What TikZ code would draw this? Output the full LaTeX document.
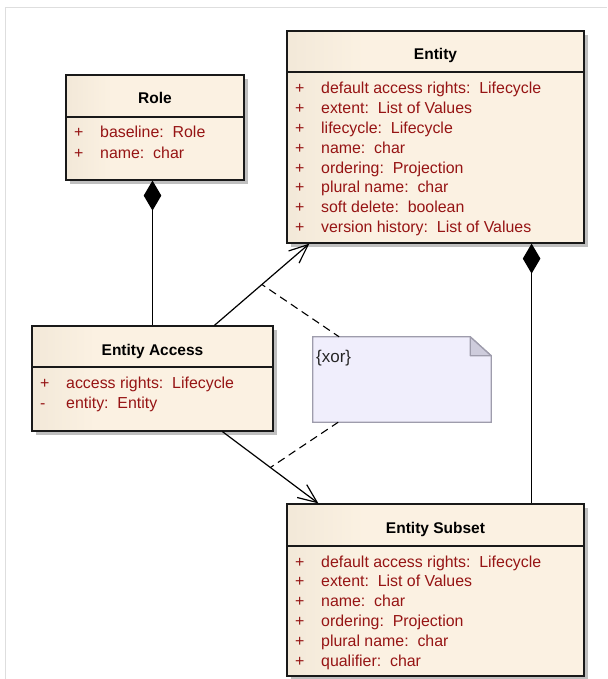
\documentclass[tikz,border=0pt]{standalone}
\usepackage{fontspec}
\setmainfont{Liberation Sans}
\usetikzlibrary{arrows.meta,shadows,calc}

\definecolor{attrred}{RGB}{150,20,20}
\definecolor{classtan}{RGB}{226,216,198}
\definecolor{classcream}{RGB}{251,241,226}
\definecolor{notefill}{RGB}{240,238,252}
\definecolor{noteedge}{RGB}{158,156,172}
\definecolor{notefold}{RGB}{206,204,220}
\definecolor{framegray}{RGB}{222,222,222}

% class compartments fade from tan on the left to cream
\pgfdeclarehorizontalshading{classfill}{100bp}{color(0bp)=(classtan); color(38bp)=(classcream); color(100bp)=(classcream)}

\tikzset{
  classbox/.style={draw=black!90, line width=1.2pt, shading=classfill, inner sep=0pt,
    drop shadow={shadow xshift=4pt, shadow yshift=-4pt, fill=black!25, opacity=1}},
  classtitle/.style={font=\bfseries\fontsize{15.5}{18}\selectfont, anchor=base, inner sep=0pt},
  attrvis/.style={font=\fontsize{15.9}{18}\selectfont, text=attrred, anchor=base west, inner sep=0pt},
  attrtext/.style={font=\fontsize{15.9}{18}\selectfont, text=attrred, anchor=base west, inner sep=0pt},
  sepline/.style={draw=black!90, line width=1.2pt},
  conn/.style={draw=black, line width=1.2pt},
  composition/.style={conn, {Diamond[length=30pt,width=17.6pt]}-},
  association/.style={conn, -{Straight Barb[length=19pt,width=16pt]}},
  notelink/.style={draw=black, line width=1.1pt, dash pattern=on 8pt off 5pt, dash phase=4pt},
  notebox/.style={minimum width=178pt, minimum height=85pt, inner sep=0pt},
}

\begin{document}
\begin{tikzpicture}[x=1pt, y=-1pt]
\useasboundingbox (0,0) rectangle (607,679);

% canvas frame
\draw[framegray, line width=1pt] (5,679) -- (5,8) -- (607,8);

% ---- Role ----
\node[classbox, minimum width=178pt, minimum height=105pt] (role) at (155,127.5) {};
\draw[sepline] (role.west |- 0,117) -- (role.east |- 0,117);
\node[classtitle] (role-t) at (155,104) {Role};
\foreach \v/\n/\ty [count=\i from 0] in {+/baseline/Role, +/name/char} {
  \node[attrvis] (role-v\i) at (74,138+20*\i) {\v};
  \node[attrtext] (role-a\i) at (100,138+20*\i) {\n:\ \ \ty};
}

% ---- Entity ----
\node[classbox, minimum width=297pt, minimum height=212pt] (entity) at (435.5,137) {};
\draw[sepline] (entity.west |- 0,72) -- (entity.east |- 0,72);
\node[classtitle] (entity-t) at (435.5,60) {Entity};
\foreach \v/\n/\ty [count=\i from 0] in {
  +/default access rights/Lifecycle,
  +/extent/List of Values,
  +/lifecycle/Lifecycle,
  +/name/char,
  +/ordering/Projection,
  +/plural name/char,
  +/soft delete/boolean,
  +/version history/List of Values} {
  \node[attrvis] (entity-v\i) at (295,94+19.8*\i) {\v};
  \node[attrtext] (entity-a\i) at (321,94+19.8*\i) {\n:\ \ \ty};
}

% ---- Entity Access ----
\node[classbox, minimum width=241pt, minimum height=105pt] (ea) at (152.5,378.5) {};
\draw[sepline] (ea.west |- 0,367) -- (ea.east |- 0,367);
\node[classtitle] (ea-t) at (152.5,355) {Entity Access};
\foreach \v/\n/\ty [count=\i from 0] in {+/access rights/Lifecycle, -/entity/Entity} {
  \node[attrvis] (ea-v\i) at (40,388+20*\i) {\v};
  \node[attrtext] (ea-a\i) at (66,388+20*\i) {\n:\ \ \ty};
}

% ---- Entity Subset ----
\node[classbox, minimum width=297pt, minimum height=172pt] (es) at (435.5,590) {};
\draw[sepline] (es.west |- 0,546) -- (es.east |- 0,546);
\node[classtitle] (es-t) at (435.5,533) {Entity Subset};
\foreach \v/\n/\ty [count=\i from 0] in {
  +/default access rights/Lifecycle,
  +/extent/List of Values,
  +/name/char,
  +/ordering/Projection,
  +/plural name/char,
  +/qualifier/char} {
  \node[attrvis] (es-v\i) at (295,567+19.8*\i) {\v};
  \node[attrtext] (es-a\i) at (321,567+19.8*\i) {\n:\ \ \ty};
}

% ---- constraint note ----
\node[notebox] (note) at (402,379.5) {};
\draw[noteedge, line width=1.3pt, fill=notefill]
  (note.north west) -- ($(note.north east)+(-21,0)$) -- ($(note.north east)+(0,19)$)
  -- (note.south east) -- (note.south west) -- cycle;
\draw[noteedge, line width=1.3pt, fill=notefold, line join=round]
  ($(note.north east)+(-21,0)$) -- ($(note.north east)+(-21,19)$) -- ($(note.north east)+(0,19)$) -- cycle;
\node[anchor=base west, inner sep=0pt, font=\fontsize{17}{18}\selectfont, text=black!85] (xor)
  at (316,362) {\{xor\}};

% ---- compositions ----
\draw[composition] (ea.north |- role.south) -- (ea.north);
\coordinate (entcomp) at ($(entity.south east)+(-53,0)$);
\draw[composition] (entcomp) -- (entcomp |- es.north);

% ---- associations ----
\coordinate (ea-up) at ($(ea.north west)+(183,0)$);
\coordinate (ent-in) at ($(entity.south west)+(23,0)$);
\coordinate (ea-down) at ($(ea.south west)+(191,0)$);
\coordinate (es-in) at ($(es.north west)+(32,0)$);
\path (ea-up) -- coordinate[pos=0.5] (mid1) (ent-in);
\path (ea-down) -- coordinate[pos=0.5] (mid2) (es-in);
\draw[association] (ea-up) -- (ent-in);
\draw[association] (ea-down) -- (es-in);

% ---- note attachments ----
\draw[notelink] (mid1) -- (note);
\draw[notelink] (mid2) -- (note);
\end{tikzpicture}
\end{document}
